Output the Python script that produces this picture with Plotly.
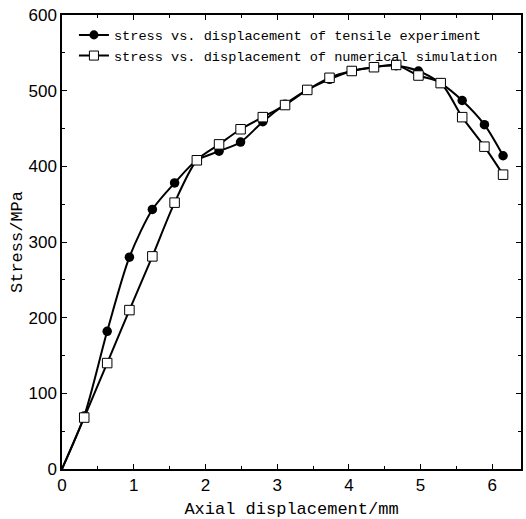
import plotly.graph_objects as go

x_disp = [0, 0.31, 0.63, 0.94, 1.26, 1.57, 1.88, 2.19, 2.49, 2.80, 3.11, 3.42, 3.73, 4.04, 4.35, 4.66, 4.97, 5.28, 5.58, 5.89, 6.15]
stress_exp = [0, 70, 182, 280, 343, 378, 408, 420, 432, 459, 482, 501, 515, 526, 531, 533, 526, 510, 487, 455, 414]
stress_sim = [0, 68, 140, 210, 281, 352, 408, 429, 449, 465, 481, 501, 517, 526, 531, 534, 520, 510, 465, 426, 389]

name_exp = "stress vs. displacement of tensile experiment"
name_sim = "stress vs. displacement of numerical simulation"

msize = [0] + [9.5] * (len(x_disp) - 1)

fig = go.Figure()
fig.add_trace(go.Scatter(
    x=x_disp, y=stress_exp, name=name_exp, mode="lines+markers",
    line=dict(color="black", width=2, shape="spline", smoothing=0.8),
    marker=dict(symbol="circle", size=msize, color="black", opacity=1,
                line=dict(color="black", width=0)),
))
fig.add_trace(go.Scatter(
    x=x_disp, y=stress_sim, name=name_sim, mode="lines+markers",
    line=dict(color="black", width=2, shape="spline", smoothing=0.8),
    marker=dict(symbol="square", size=msize, color="white", opacity=1,
                line=dict(color="black", width=1)),
))

tickfont = dict(family="Liberation Sans, Arial", size=17, color="black")
titlefont = dict(family="Liberation Mono, monospace", size=17, color="black")

fig.update_layout(
    width=526, height=519,
    margin=dict(l=62, r=5, t=15, b=50, autoexpand=False),
    paper_bgcolor="white", plot_bgcolor="white",
    showlegend=True,
    legend=dict(x=0.026, y=0.99, xanchor="left", yanchor="top",
                font=dict(family="Liberation Mono, monospace", size=13.6, color="black"),
                bgcolor="rgba(0,0,0,0)", tracegroupgap=0, itemwidth=30),
    xaxis=dict(range=[0, 6.4], tickvals=[0, 1, 2, 3, 4, 5, 6], ticks="inside", ticklen=5,
               tickwidth=1.2, tickcolor="black", showline=True, linecolor="black", linewidth=1.5,
               mirror="ticks", showgrid=False, zeroline=False, tickfont=tickfont,
               minor=dict(tickvals=[0.5, 1.5, 2.5, 3.5, 4.5, 5.5], ticks="inside", ticklen=3, tickcolor="black"),
               title=dict(text="Axial displacement/mm", font=titlefont, standoff=10)),
    yaxis=dict(range=[0, 600], tickvals=[0, 100, 200, 300, 400, 500, 600], ticks="inside", ticklen=5,
               tickwidth=1.2, tickcolor="black", showline=True, linecolor="black", linewidth=1.5,
               mirror="ticks", showgrid=False, zeroline=False, tickfont=tickfont,
               minor=dict(tickvals=[50, 150, 250, 350, 450, 550], ticks="inside", ticklen=3, tickcolor="black"),
               title=dict(text="Stress/MPa", font=titlefont, standoff=2)),
)

fig.write_html("out.html")
